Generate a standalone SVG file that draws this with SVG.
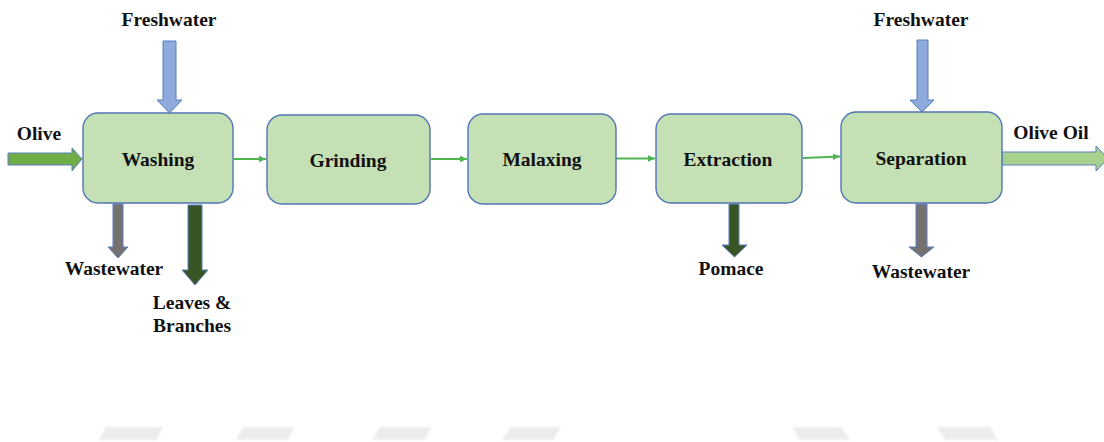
<svg xmlns="http://www.w3.org/2000/svg" width="1104" height="442" viewBox="0 0 1104 442">
  <style>
    .box { fill: #c5e0b4; stroke: #4f76b5; stroke-width: 1.4; }
    .lbl { font-family: "Liberation Serif", "Times New Roman", serif; font-weight: bold; font-size: 19.5px; fill: #111; text-anchor: middle; }
    .link { stroke: #4cb54f; stroke-width: 2; fill: none; marker-end: url(#tip); }
    .flow { stroke: #5a7fbf; stroke-width: 1; stroke-linejoin: miter; }
    .fresh { fill: #8faadc; }
    .olive { fill: #70ad47; }
    .oil { fill: #a9d18e; }
    .waste { fill: #767171; }
    .solid { fill: #375623; }
    .mark { fill: #ececec; }
  </style>
  <defs>
    <marker id="tip" markerWidth="8" markerHeight="8" refX="7" refY="4" orient="auto" markerUnits="userSpaceOnUse">
      <path d="M0,0.8 L7,4 L0,7.2 Z" fill="#4cb54f"/>
    </marker>
    <filter id="soft" x="-10%" y="-50%" width="120%" height="200%">
      <feGaussianBlur stdDeviation="0.8"/>
    </filter>
  </defs>

  <rect width="1104" height="442" fill="#ffffff"/>

  <!-- faint background bands along the bottom edge -->
  <g id="bands" filter="url(#soft)">
    <polygon class="mark" points="106,427 163,427 156,440 99,440"/>
    <polygon class="mark" points="243,427 294,427 288,440 236,440"/>
    <polygon class="mark" points="380,427 432,427 424,440 372,440"/>
    <polygon class="mark" points="510,427 561,427 553,440 502,440"/>
    <polygon class="mark" points="792,427 841,427 850,440 800,440"/>
    <polygon class="mark" points="937,427 990,427 998,440 945,440"/>
  </g>

  <!-- process-to-process links -->
  <g id="connectors">
    <line class="link" x1="234" y1="159" x2="266" y2="159"/>
    <line class="link" x1="431" y1="159" x2="467" y2="159"/>
    <line class="link" x1="616" y1="158.5" x2="655" y2="158.5"/>
    <line class="link" x1="803" y1="158" x2="840" y2="156.5"/>
  </g>

  <!-- input and output streams -->
  <g id="streams">
    <polygon class="olive flow" points="8,153 72,153 72,148 82,159 72,171 72,165 8,165"/>
    <polygon class="fresh flow" points="163,41 176,41 176,100 182,100 169.5,113 157,100 163,100"/>
    <polygon class="fresh flow" points="917,40 928,40 928,100 934,100 922,112 910,100 917,100"/>
    <polygon class="waste flow" points="113,204 123,204 123,247 128,247 118,258 108,247 113,247"/>
    <polygon class="solid flow" points="188,205 202,205 202,270 208,270 195,285 182,270 188,270"/>
    <polygon class="solid flow" points="729,204 739,204 739,245 747,245 734.5,257 722,245 729,245"/>
    <polygon class="waste flow" points="916,204 927,204 927,247 934,247 921.5,257 909,247 916,247"/>
    <polygon class="oil flow" points="1002,152 1096,152 1096,146 1108,158.5 1096,171 1096,165 1002,165"/>
  </g>

  <g id="washing">
    <rect class="box" x="83" y="113" width="150" height="90" rx="15"/>
    <text class="lbl" x="158" y="166">Washing</text>
  </g>
  <g id="grinding">
    <rect class="box" x="267" y="115" width="163" height="89" rx="15"/>
    <text class="lbl" x="348" y="167">Grinding</text>
  </g>
  <g id="malaxing">
    <rect class="box" x="468" y="114" width="148" height="90" rx="15"/>
    <text class="lbl" x="542" y="166">Malaxing</text>
  </g>
  <g id="extraction">
    <rect class="box" x="656" y="114" width="146" height="89" rx="15"/>
    <text class="lbl" x="728" y="166">Extraction</text>
  </g>
  <g id="separation">
    <rect class="box" x="841" y="112" width="161" height="91" rx="15"/>
    <text class="lbl" x="921" y="165">Separation</text>
  </g>

  <!-- stream labels -->
  <g id="labels">
    <text class="lbl" x="169" y="26">Freshwater</text>
    <text class="lbl" x="921" y="26">Freshwater</text>
    <text class="lbl" x="39" y="140">Olive</text>
    <text class="lbl" x="1051" y="139">Olive Oil</text>
    <text class="lbl" x="114" y="275">Wastewater</text>
    <text class="lbl" x="192" y="309">Leaves &amp;</text>
    <text class="lbl" x="192" y="332">Branches</text>
    <text class="lbl" x="731" y="275">Pomace</text>
    <text class="lbl" x="921" y="278">Wastewater</text>
  </g>
</svg>
